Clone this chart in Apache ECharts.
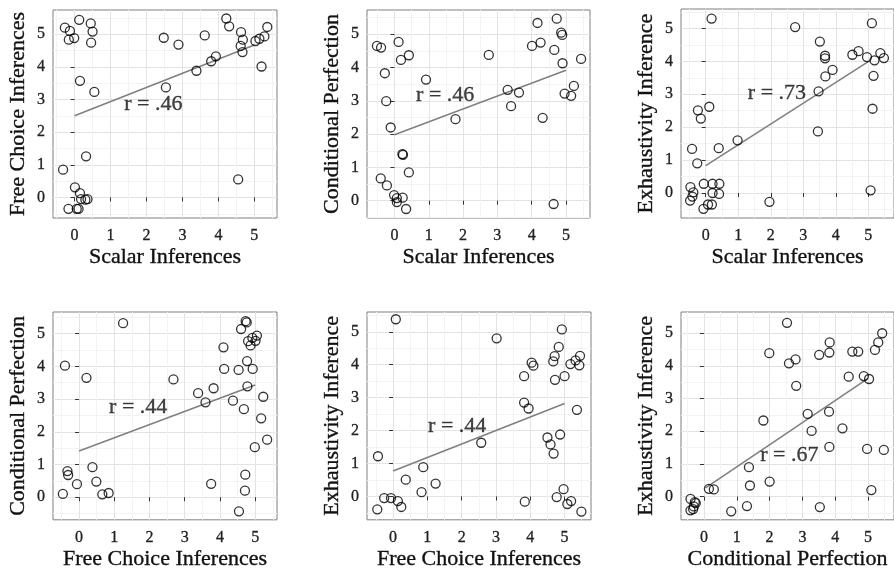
<!DOCTYPE html>
<html>
<head>
<meta charset="utf-8">
<script src="https://cdn.jsdelivr.net/npm/echarts@6/dist/echarts.min.js"></script>
<style>
  html, body { margin: 0; padding: 0; background: #fff; }
  #main { width: 894px; height: 571px; }
</style>
</head>
<body>
<div id="main"></div>
<script>
// panel data, [x, y] per participant
var scalarVsFreeChoice = [
  [-0.27,5.2],[-0.13,5.1],[-0.16,4.83],[-0.01,4.88],[0.13,5.44],[0.45,5.33],[0.5,5.08],[0.46,4.74],
  [0.15,3.57],[0.55,3.23],[0.32,1.26],[-0.32,0.85],[0.01,0.31],[0.15,0.13],[0.18,-0.05],[0.3,-0.07],
  [0.36,-0.05],[-0.17,-0.35],[0.06,-0.35],[0.11,-0.35],[2.48,4.89],[2.54,3.37],[2.89,4.68],[3.39,3.88],
  [3.62,4.96],[3.8,4.17],[3.93,4.32],[4.22,5.48],[4.3,5.24],[4.63,5.06],[4.68,4.83],[4.62,4.64],
  [4.67,4.45],[4.55,0.55],[5.03,4.79],[5.14,4.86],[5.28,4.93],[5.36,5.22],[5.2,4.01]
];
var scalarVsConditional = [
  [-0.51,4.65],[-0.39,4.6],[-0.28,3.83],[-0.24,2.99],[-0.11,2.2],[0.12,4.77],[0.19,4.23],[0.42,4.37],
  [0.92,3.64],[0.23,1.4],[0.25,1.38],[0.42,0.85],[-0.4,0.67],[-0.22,0.46],[-0.01,0.17],[0.07,0.08],
  [0.24,0.09],[0.07,-0.04],[0.34,-0.25],[1.78,2.45],[2.75,4.38],[3.3,3.33],[3.4,2.84],[3.63,3.25],
  [4.01,4.65],[4.17,5.34],[4.26,4.75],[4.32,2.49],[4.73,5.47],[4.66,4.53],[4.64,-0.1],[4.86,5.05],
  [4.89,4.98],[4.9,4.13],[4.96,3.22],[5.15,3.15],[5.23,3.45],[5.44,4.26]
];
var scalarVsExhaustivity = [
  [0.18,5.3],[2.75,5.04],[3.51,4.6],[3.67,4.17],[3.67,4.09],[3.68,3.54],[3.9,3.74],[3.47,3.09],
  [3.45,1.87],[4.51,4.2],[4.7,4.31],[4.96,4.13],[5.11,5.16],[5.19,4.03],[5.16,3.56],[5.13,2.56],
  [5.07,0.08],[5.37,4.25],[5.48,4.1],[-0.24,2.51],[-0.15,2.26],[0.11,2.62],[-0.42,1.34],[-0.26,0.9],
  [0.4,1.36],[0.98,1.6],[1.96,-0.27],[-0.47,0.18],[-0.38,0.02],[-0.41,-0.11],[-0.48,-0.23],[-0.06,0.28],
  [0.21,0.28],[0.42,0.28],[0.21,0.0],[0.41,-0.03],[-0.07,-0.48],[0.07,-0.35],[0.19,-0.35]
];
var freeChoiceVsConditional = [
  [1.25,5.32],[-0.4,4.02],[0.21,3.65],[-0.33,0.8],[-0.31,0.68],[-0.46,0.1],[-0.06,0.4],[0.38,0.92],
  [0.49,0.48],[0.66,0.09],[0.84,0.13],[2.68,3.6],[3.38,3.18],[3.59,2.9],[3.82,3.33],[3.75,0.41],
  [4.1,4.58],[4.12,3.92],[4.37,2.95],[4.53,3.89],[4.54,-0.43],[4.6,5.14],[4.73,5.38],[4.76,5.34],
  [4.8,4.77],[4.87,4.64],[4.92,4.87],[5.01,4.78],[5.05,4.94],[4.77,4.16],[4.93,3.92],[4.78,3.39],
  [4.68,2.69],[4.72,0.69],[4.71,0.2],[5.23,3.07],[5.17,2.41],[5.34,1.76],[4.99,1.53]
];
var freeChoiceVsExhaustivity = [
  [0.08,5.38],[3.02,4.8],[-0.44,1.22],[-0.46,-0.39],[-0.26,-0.05],[-0.06,-0.05],[0.14,-0.14],[0.24,-0.32],
  [0.37,0.51],[0.88,0.89],[0.83,0.13],[1.24,0.39],[2.57,1.63],[3.82,3.65],[3.82,2.85],[3.95,2.67],
  [3.84,-0.16],[4.04,4.06],[4.09,3.97],[4.5,1.79],[4.59,1.58],[4.68,1.3],[4.67,4.1],[4.71,4.26],
  [4.83,4.54],[4.72,3.54],[4.87,1.88],[4.77,-0.02],[4.92,5.07],[5.0,3.65],[4.97,0.22],[5.08,-0.23],
  [5.19,-0.14],[5.17,4.02],[5.32,4.13],[5.43,3.98],[5.45,4.27],[5.36,2.63],[5.49,-0.46]
];
var conditionalVsExhaustivity = [
  [2.53,5.32],[1.99,4.39],[2.59,4.08],[2.79,4.2],[2.81,3.39],[1.81,2.33],[3.16,2.53],[3.28,2.01],
  [3.51,4.34],[3.83,4.72],[3.82,4.41],[3.81,2.6],[3.82,1.52],[4.22,2.09],[4.41,3.67],[4.52,4.44],
  [4.7,4.44],[4.87,3.69],[5.03,3.6],[4.97,1.46],[5.1,0.2],[5.21,4.49],[5.31,4.72],[5.43,5.0],
  [5.48,1.43],[1.37,0.9],[1.4,0.34],[2.0,0.46],[1.31,-0.29],[0.83,-0.45],[3.53,-0.32],[0.15,0.24],
  [0.3,0.22],[-0.41,-0.07],[-0.28,-0.17],[-0.25,-0.2],[-0.31,-0.3],[-0.41,-0.42],[-0.33,-0.38]
];

// fitted lines (start, end) and r labels
var fitLines = [
  [[0,2.5],[5,4.67]],
  [[0,1.98],[5,3.92]],
  [[0,0.83],[5,3.99]],
  [[0,1.41],[5,3.43]],
  [[0,0.77],[5,2.82]],
  [[0.05,0.27],[5,3.62]]
];
var rTexts = ['r = .46','r = .46','r = .73','r = .44','r = .44','r = .67'];
var rPos = [[2.19,2.86],[1.48,3.18],[2.19,3.04],[1.68,2.74],[1.87,2.14],[2.6,1.26]];

var xNames = ['Scalar Inferences','Scalar Inferences','Scalar Inferences',
  'Free Choice Inferences','Free Choice Inferences','Conditional Perfection'];
var yNames = ['Free Choice Inferences','Conditional Perfection','Exhaustivity Inference',
  'Conditional Perfection','Exhaustivity Inference','Exhaustivity Inference'];
var tickValues = [0,1,2,3,4,5];
var minorValues = [-0.5,0.5,1.5,2.5,3.5,4.5,5.5];

var panels = [scalarVsFreeChoice, scalarVsConditional, scalarVsExhaustivity,
  freeChoiceVsConditional, freeChoiceVsExhaustivity, conditionalVsExhaustivity];

var xRanges = [[-0.6,5.63],[-0.8,5.7],[-0.76,5.79],[-0.74,5.62],[-0.76,5.77],[-0.7,5.79]];
var yRanges = [[-0.63,5.74],[-0.52,5.73],[-0.76,5.59],[-0.69,5.66],[-0.71,5.6],[-0.71,5.65]];

var gridBoxes = [
  {left:53, top:10, width:224, height:208},
  {left:367, top:10, width:223, height:208},
  {left:681, top:9, width:223, height:209},
  {left:53, top:312, width:224, height:208},
  {left:367, top:312, width:224, height:208},
  {left:681, top:312, width:223, height:208}
];

var serif = 'Liberation Serif';
var textDark = '#111';
var heavy = { textBorderColor: textDark, textBorderWidth: 0.35 };
var grids = [], xAxes = [], yAxes = [], series = [];

for (var i = 0; i < 6; i++) {
  grids.push({
    left: gridBoxes[i].left, top: gridBoxes[i].top,
    width: gridBoxes[i].width, height: gridBoxes[i].height,
    show: true, borderColor: '#7f7f7f', borderWidth: 1
  });
  xAxes.push({
    type: 'value', gridIndex: i, position: 'bottom',
    min: xRanges[i][0], max: xRanges[i][1],
    name: xNames[i], nameLocation: 'middle', nameGap: 28,
    nameTextStyle: Object.assign({ fontFamily: serif, fontSize: 22, color: textDark }, heavy),
    axisLine: { show: false },
    axisTick: { show: true, inside: false, length: 4, customValues: tickValues,
      lineStyle: { color: '#333' } },
    axisLabel: Object.assign({ customValues: tickValues, margin: 10,
      fontFamily: serif, fontSize: 16, color: '#222' }, { textBorderColor: '#222', textBorderWidth: 0.3 }),
    splitLine: { show: true, lineStyle: { color: '#e3e3e3', width: 1 } }
  });
  yAxes.push({
    type: 'value', gridIndex: i, position: 'left',
    min: yRanges[i][0], max: yRanges[i][1],
    name: yNames[i], nameLocation: 'middle', nameGap: 24,
    nameTextStyle: Object.assign({ fontFamily: serif, fontSize: 22, color: textDark }, heavy),
    axisLine: { show: false },
    axisTick: { show: true, inside: false, length: 4, customValues: tickValues,
      lineStyle: { color: '#333' } },
    axisLabel: Object.assign({ customValues: tickValues, margin: 8,
      fontFamily: serif, fontSize: 16, color: '#222' }, { textBorderColor: '#222', textBorderWidth: 0.3 }),
    splitLine: { show: true, lineStyle: { color: '#e3e3e3', width: 1 } }
  });
}
// minor grid lines on hidden companion axes
for (var j = 0; j < 6; j++) {
  xAxes.push({
    type: 'value', gridIndex: j, position: 'top',
    min: xRanges[j][0], max: xRanges[j][1],
    axisLine: { show: false },
    axisTick: { show: false, customValues: minorValues },
    axisLabel: { show: false, customValues: minorValues },
    splitLine: { show: true, lineStyle: { color: '#f3f3f3', width: 1 } }
  });
  yAxes.push({
    type: 'value', gridIndex: j, position: 'right',
    min: yRanges[j][0], max: yRanges[j][1],
    axisLine: { show: false },
    axisTick: { show: false, customValues: minorValues },
    axisLabel: { show: false, customValues: minorValues },
    splitLine: { show: true, lineStyle: { color: '#f3f3f3', width: 1 } }
  });
}

for (var k = 0; k < 6; k++) {
  series.push({
    type: 'scatter', xAxisIndex: k, yAxisIndex: k,
    data: panels[k], symbol: 'circle', symbolSize: 9,
    itemStyle: { color: 'rgba(0,0,0,0)', borderColor: '#000', borderWidth: 1.3 },
    z: 3
  });
  series.push({
    type: 'line', xAxisIndex: k, yAxisIndex: k,
    data: fitLines[k], showSymbol: false, silent: true,
    lineStyle: { color: '#808080', width: 1.6 }, z: 2
  });
  series.push({
    type: 'scatter', xAxisIndex: k, yAxisIndex: k,
    data: [rPos[k]], symbolSize: 0, silent: true,
    label: Object.assign({ show: true, position: 'inside', formatter: rTexts[k],
      fontFamily: serif, fontSize: 22, color: textDark }, heavy),
    z: 4
  });
}

var chart = echarts.init(document.getElementById('main'), null, { renderer: 'canvas' });
chart.setOption({
  animation: false,
  backgroundColor: '#fff',
  grid: grids,
  xAxis: xAxes,
  yAxis: yAxes,
  series: series
});
</script>
</body>
</html>
